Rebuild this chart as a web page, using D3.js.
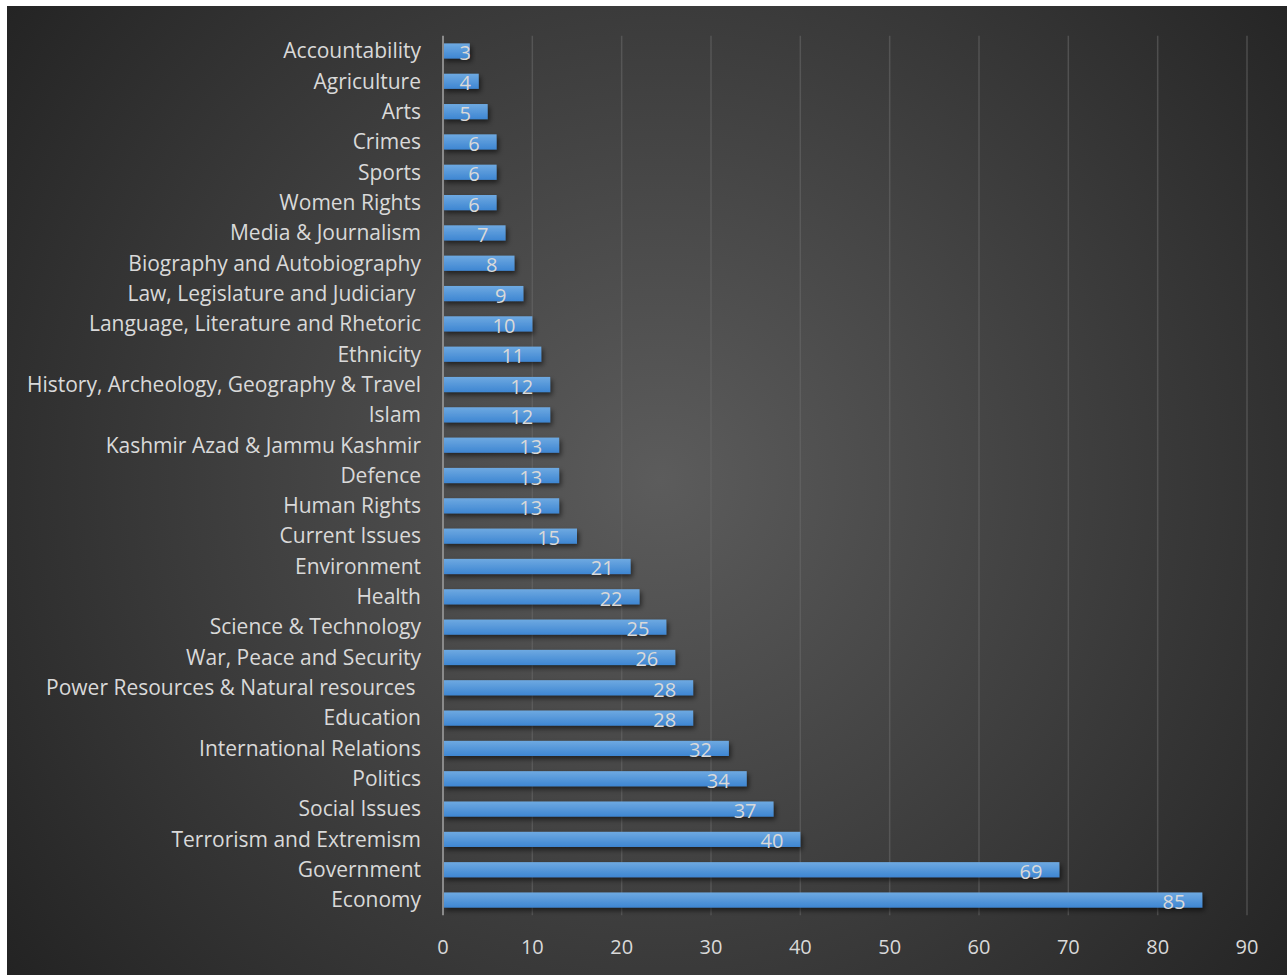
<!DOCTYPE html>
<html><head><meta charset="utf-8">
<script src="https://cdn.jsdelivr.net/npm/d3@7"></script>
<style>
html,body{margin:0;padding:0;background:#fff;}
svg{display:block;}
text{font-family:"Open Sans","Noto Sans",sans-serif;}
</style></head>
<body>
<svg id="chart" width="1287" height="975"></svg>
<script>
const categories = ["Accountability","Agriculture","Arts","Crimes","Sports","Women Rights","Media & Journalism","Biography and Autobiography","Law, Legislature and Judiciary ","Language, Literature and Rhetoric","Ethnicity","History, Archeology, Geography & Travel","Islam","Kashmir Azad & Jammu Kashmir","Defence","Human Rights","Current Issues","Environment","Health","Science & Technology","War, Peace and Security","Power Resources & Natural resources ","Education","International Relations","Politics","Social Issues","Terrorism and Extremism","Government","Economy"];
const values = [3,4,5,6,6,6,7,8,9,10,11,12,12,13,13,13,15,21,22,25,26,28,28,32,34,37,40,69,85];
const xTicks = [0,10,20,30,40,50,60,70,80,90];

const data = categories.map((c,i)=>({cat:c, val:values[i]}));
const svg = d3.select("#chart");
const defs = svg.append("defs");

const bg = defs.append("radialGradient").attr("id","bg").attr("gradientUnits","userSpaceOnUse")
  .attr("cx",660).attr("cy",480).attr("r",820);
bg.append("stop").attr("offset","0%").attr("stop-color","#5c5c5c");
bg.append("stop").attr("offset","100%").attr("stop-color","#232323");

const bar = defs.append("linearGradient").attr("id","bar").attr("x1",0).attr("y1",0).attr("x2",0).attr("y2",1);
bar.append("stop").attr("offset","0%").attr("stop-color","#6ea9e1");
bar.append("stop").attr("offset","100%").attr("stop-color","#3e86d2");

const sh = defs.append("filter").attr("id","shadow").attr("x","-10%").attr("y","-50%").attr("width","130%").attr("height","250%");
sh.append("feDropShadow").attr("dx",2).attr("dy",3).attr("stdDeviation",2.5).attr("flood-color","#000").attr("flood-opacity",0.55);

svg.append("rect").attr("x",7).attr("y",6).attr("width",1280).attr("height",969).attr("fill","url(#bg)");

const x = d3.scaleLinear().domain([0,90]).range([443,1247]);
const y = d3.scaleBand().domain(categories).range([35.8,915.2]).paddingInner(0.5).paddingOuter(0.25);

// gridlines
svg.append("g").selectAll("line").data(xTicks.slice(1)).join("line")
  .attr("x1",d=>x(d)).attr("x2",d=>x(d)).attr("y1",35.8).attr("y2",915.2)
  .attr("stroke","#6a6a6a").attr("stroke-opacity",0.55).attr("stroke-width",1.5);

// bars
svg.append("g").selectAll("rect").data(data).join("rect")
  .attr("x",x(0)).attr("y",d=>y(d.cat)).attr("width",d=>x(d.val)-x(0)).attr("height",y.bandwidth())
  .attr("fill","url(#bar)").attr("filter","url(#shadow)");

// axis line
svg.append("line").attr("x1",x(0)).attr("x2",x(0)).attr("y1",35.8).attr("y2",915.2)
  .attr("stroke","#8a8a8a").attr("stroke-width",2);

// category labels
svg.append("g").selectAll("text").data(data).join("text")
  .attr("x",421).attr("y",d=>y(d.cat)+y.bandwidth()/2).attr("dy","0.35em")
  .attr("text-anchor","end").attr("fill","#d9d9d9").attr("font-size",21)
  .style("white-space","pre").text(d=>d.cat);

// value labels
svg.append("g").selectAll("text").data(data).join("text")
  .attr("x",d=>Math.max(x(d.val)-17, x(0)+28)).attr("y",d=>y(d.cat)+y.bandwidth()/2+2).attr("dy","0.35em")
  .attr("text-anchor","end").attr("fill","#d9d9d9").attr("font-size",20)
  .text(d=>d.val);

// x tick labels
svg.append("g").selectAll("text").data(xTicks).join("text")
  .attr("x",d=>x(d)).attr("y",947).attr("dy","0.35em")
  .attr("text-anchor","middle").attr("fill","#d9d9d9").attr("font-size",20)
  .text(d=>d);
</script>
</body></html>
